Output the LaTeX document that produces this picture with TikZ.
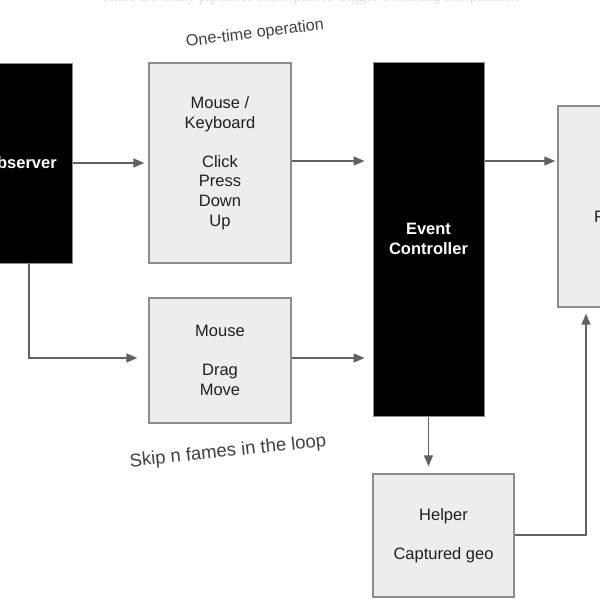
\documentclass[tikz,border=0pt]{standalone}
\usepackage{fontspec}
\setmainfont{Liberation Sans}
\newfontfamily\serifnote{Liberation Serif}
\usetikzlibrary{arrows.meta}
\begin{document}
\begin{tikzpicture}[x=1pt,y=-1pt,
  lightbox/.style={draw=black!45,line width=1.4pt,fill=black!7,inner sep=0pt,align=center,
    text=black!88,font=\fontsize{16.5}{19.6}\selectfont},
  darkbox/.style={draw=black!45,line width=1pt,fill=black,inner sep=0pt,align=center,
    text=white,font=\fontsize{16.5}{19.6}\selectfont\bfseries},
  conn/.style={draw=black!62,line width=1.3pt,-{Triangle[length=11pt,width=9pt]}},
  note/.style={text=black!75,inner sep=0pt}]
\useasboundingbox (0,0) rectangle (600,600);
\clip (0,0) rectangle (600,600);
\fill[white] (0,0) rectangle (600,600);
\node[text=black!12,inner sep=0pt,font=\serifnote\fontsize{15}{18}\selectfont] (top) at (310,-2) {There are many pipelines and inputs to trigger executing computation};
\node[darkbox,minimum width=103pt,minimum height=200pt] (obs) at (20.5,163) {Observer};
\node[lightbox,minimum width=142pt,minimum height=200pt] (mk) at (220,163) {Mouse /\\Keyboard\\[19.6pt]Click\\Press\\Down\\Up};
\node[lightbox,minimum width=142pt,minimum height=125pt] (md) at (220,360.5) {Mouse\\[19.6pt]Drag\\Move};
\node[darkbox,minimum width=111pt,minimum height=354pt] (ec) at (428.5,239) {Event\\Controller};
\node[lightbox,minimum width=100pt,minimum height=201pt] (r) at (608,206.5) {};
\node[text=black!88,inner sep=0pt,anchor=west,font=\fontsize{16.5}{19.6}\selectfont] (rl) at (594,217) {F};
\node[lightbox,minimum width=141pt,minimum height=123pt] (hp) at (443.5,535.5) {Helper\\[19pt]Captured geo};
\node[note,rotate=7,font=\fontsize{16.2}{19}\selectfont] (one) at (255,34) {One-time operation};
\node[note,rotate=6,font=\fontsize{18.5}{22}\selectfont] (skip) at (228,452) {Skip n fames in the loop};
\coordinate (c1) at (29,358);
\coordinate (c2) at (586,535);
\draw[conn,shorten >=4pt] (obs.east |- 0,163) -- (mk.west |- 0,163);
\draw[conn,shorten >=11pt] (obs.south -| c1) -- (c1) -- (md.west |- c1);
\draw[conn,shorten >=8pt] (mk.east |- 0,161) -- (ec.west |- 0,161);
\draw[conn,shorten >=8pt] (md.east |- 0,358) -- (ec.west |- 0,358);
\draw[conn,shorten >=2pt] (ec.east |- 0,161) -- (r.west |- 0,161);
\draw[conn,shorten >=7pt] (ec.south) -- (hp.north -| ec.south);
\draw[conn,shorten >=6pt] (hp.east |- c2) -- (c2) -- (r.south -| c2);
\end{tikzpicture}
\end{document}
